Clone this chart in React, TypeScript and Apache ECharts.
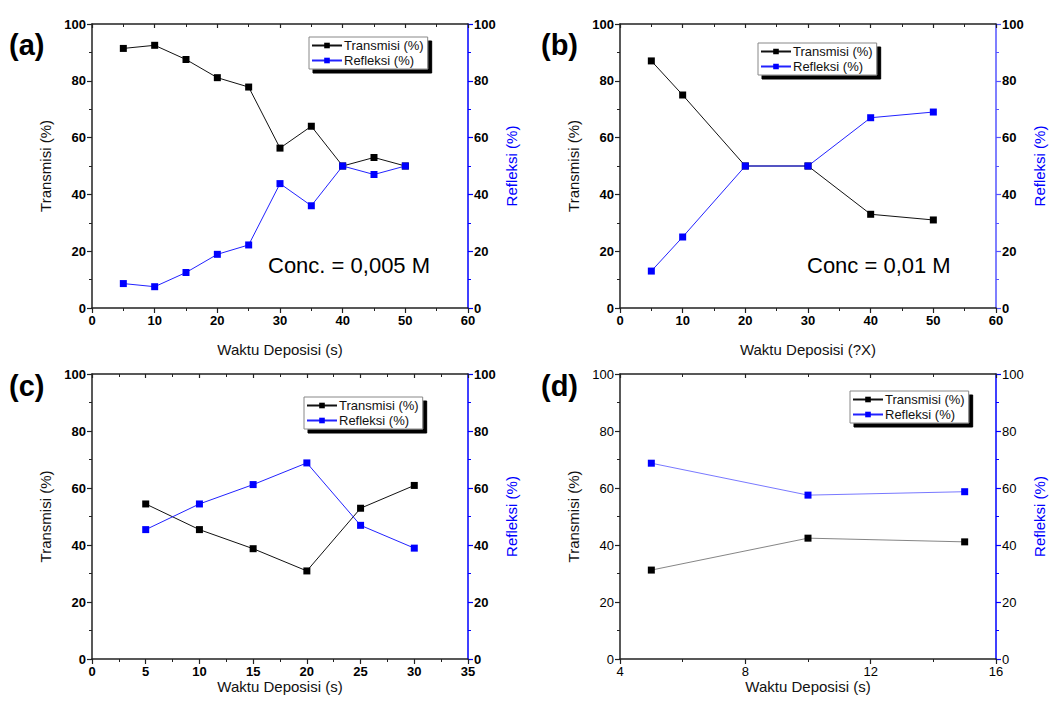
import React, { useEffect, useRef } from "react";
import * as echarts from "echarts";

// Panel (a) Conc. = 0,005 M
const timeA = [5, 10, 15, 20, 25, 30, 35, 40, 45, 50];
const transA = [91.4, 92.5, 87.5, 81.1, 77.8, 56.3, 64.0, 50.0, 53.0, 50.0];
const reflA = [8.6, 7.5, 12.5, 18.9, 22.2, 43.8, 36.0, 50.0, 47.0, 50.0];
// Panel (b) Conc = 0,01 M
const timeB = [5, 10, 20, 30, 40, 50];
const transB = [87.0, 75.0, 50.0, 50.0, 33.0, 31.0];
const reflB = [13.0, 25.0, 50.0, 50.0, 67.0, 69.0];
// Panel (c)
const timeC = [5, 10, 15, 20, 25, 30];
const transC = [54.4, 45.4, 38.7, 30.9, 52.9, 60.9];
const reflC = [45.4, 54.4, 61.2, 68.8, 46.9, 38.9];
// Panel (d)
const timeD = [5, 10, 15];
const transD = [31.2, 42.4, 41.1];
const reflD = [68.7, 57.5, 58.7];

const panelLetters = ["(a)", "(b)", "(c)", "(d)"];
const xTitles = ["Waktu Deposisi (s)", "Waktu Deposisi (?X)", "Waktu Deposisi (s)", "Waktu Deposisi (s)"];
const yLeftTitle = "Transmisi (%)";
const yRightTitle = "Refleksi (%)";
const transName = "Transmisi (%)";
const reflName = "Refleksi (%)";
const xRanges = [
  { min: 0, max: 60, interval: 10 },
  { min: 0, max: 60, interval: 10 },
  { min: 0, max: 35, interval: 5 },
  { min: 4, max: 16, interval: 4 },
];
const concLabels = ["Conc. = 0,005 M", "Conc = 0,01 M"];

const FONT = "Liberation Sans, Arial, sans-serif";

export default function App() {
  const ref = useRef<HTMLDivElement>(null);
  useEffect(() => {
    if (!ref.current) return;
    const chart = echarts.init(ref.current, null, { renderer: "svg" });

    const grids = [
      { left: 92, top: 24, width: 376, height: 284 },
      { left: 620, top: 24, width: 376, height: 284 },
      { left: 92, top: 374, width: 376, height: 285 },
      { left: 620, top: 374, width: 376, height: 285 },
    ];
    const panels = [
      { t: timeA, tr: transA, rf: reflA },
      { t: timeB, tr: transB, rf: reflB },
      { t: timeC, tr: transC, rf: reflC },
      { t: timeD, tr: transD, rf: reflD },
    ];
    const legendPos = [
      { left: 309, top: 37 },
      { left: 758, top: 43 },
      { left: 304, top: 397 },
      { left: 850, top: 391 },
    ];
    const xNameGaps = [34, 34, 19, 19];
    const rightColors = ["#0000ff", "#5555ff", "#0000ff", "#0000ff"];

    const xAxis: any[] = [];
    const yAxis: any[] = [];
    const series: any[] = [];
    const legend: any[] = [];

    panels.forEach((p, i) => {
      const bold = i < 3 ? "bold" : "normal";
      const r = xRanges[i];
      xAxis.push({
        type: "value",
        gridIndex: i,
        position: "bottom",
        min: r.min,
        max: r.max,
        interval: r.interval,
        name: xTitles[i],
        nameLocation: "middle",
        nameGap: xNameGaps[i],
        nameTextStyle: { fontFamily: FONT, fontSize: 15, color: "#111" },
        axisLine: { onZero: false, lineStyle: { color: "#222", width: 1.5 } },
        axisTick: { inside: false, length: 5, lineStyle: { color: "#222", width: 1.2 } },
        minorTick: { show: true, splitNumber: 2, length: 3, lineStyle: { color: "#222" } },
        axisLabel: { fontFamily: FONT, fontSize: 13, fontWeight: bold, color: "#000", margin: 6 },
        splitLine: { show: false },
      });
      xAxis.push({
        type: "value",
        gridIndex: i,
        position: "top",
        min: r.min,
        max: r.max,
        interval: r.interval,
        axisLine: { onZero: false, lineStyle: { color: "#222", width: 1.5 } },
        axisTick: { inside: true, length: 4, lineStyle: { color: "#222", width: 1.2 } },
        minorTick: { show: true, splitNumber: 2, length: 3, lineStyle: { color: "#222" } },
        axisLabel: { show: false },
        splitLine: { show: false },
      });
      yAxis.push({
        type: "value",
        gridIndex: i,
        position: "left",
        min: 0,
        max: 100,
        interval: 20,
        name: yLeftTitle,
        nameLocation: "middle",
        nameGap: 39,
        nameTextStyle: { fontFamily: FONT, fontSize: 15, color: "#111" },
        axisLine: { show: true, onZero: false, lineStyle: { color: "#222", width: 1.5 } },
        axisTick: { show: true, inside: false, length: 5, lineStyle: { color: "#222", width: 1.2 } },
        minorTick: { show: true, splitNumber: 2, length: 3, lineStyle: { color: "#222" } },
        axisLabel: { fontFamily: FONT, fontSize: 13, fontWeight: bold, color: "#000", margin: 6 },
        splitLine: { show: false },
      });
      yAxis.push({
        type: "value",
        gridIndex: i,
        position: "right",
        min: 0,
        max: 100,
        interval: 20,
        name: yRightTitle,
        nameLocation: "middle",
        nameGap: 36,
        nameRotate: 90,
        nameTextStyle: { fontFamily: FONT, fontSize: 15, color: "#0000ff" },
        axisLine: { show: true, onZero: false, lineStyle: { color: rightColors[i], width: 1.5 } },
        axisTick: { show: true, inside: false, length: 5, lineStyle: { color: rightColors[i], width: 1.2 } },
        minorTick: { show: true, splitNumber: 2, length: 3, lineStyle: { color: rightColors[i] } },
        axisLabel: { fontFamily: FONT, fontSize: 13, fontWeight: bold, color: "#000", margin: 6 },
        splitLine: { show: false },
      });
      const thin = i === 3;
      series.push({
        type: "line",
        name: transName,
        xAxisIndex: 2 * i,
        yAxisIndex: 2 * i,
        data: p.t.map((x, k) => [x, p.tr[k]]),
        symbol: "rect",
        symbolSize: 7,
        itemStyle: { color: "#000" },
        lineStyle: { color: thin ? "#666" : "#111", width: thin ? 0.8 : 1 },
        z: 3,
      });
      series.push({
        type: "line",
        name: reflName,
        xAxisIndex: 2 * i,
        yAxisIndex: 2 * i + 1,
        data: p.t.map((x, k) => [x, p.rf[k]]),
        symbol: "rect",
        symbolSize: 7,
        itemStyle: { color: "#0000ff" },
        lineStyle: { color: thin ? "#5555ff" : "#2222ff", width: thin ? 0.8 : 1 },
        z: 3,
      });
      legend.push({
        left: legendPos[i].left,
        top: legendPos[i].top,
        orient: "vertical",
        data: [transName, reflName],
        itemWidth: 30,
        itemHeight: 7,
        itemGap: 2,
        padding: [2, 4, 2, 2],
        backgroundColor: "#fff",
        borderColor: "#888",
        borderWidth: 1,
        shadowColor: "#000",
        shadowBlur: 0,
        shadowOffsetX: 4,
        shadowOffsetY: 4,
        selectedMode: false,
        textStyle: { fontFamily: FONT, fontSize: 13, color: "#111", padding: [0, 0, 0, -3] },
      });
    });

    const graphic: any[] = [];
    const letterPos = [
      { x: 9, y: 30 },
      { x: 541, y: 30 },
      { x: 9, y: 371 },
      { x: 541, y: 371 },
    ];
    panelLetters.forEach((s, i) => {
      graphic.push({
        type: "text",
        left: letterPos[i].x,
        top: letterPos[i].y,
        style: { text: s, font: `bold 29px ${FONT}`, fill: "#000" },
      });
    });
    graphic.push({
      type: "text",
      left: 268,
      top: 254,
      style: { text: concLabels[0], font: `22px ${FONT}`, fill: "#000" },
    });
    graphic.push({
      type: "text",
      left: 807,
      top: 254,
      style: { text: concLabels[1], font: `22px ${FONT}`, fill: "#000" },
    });

    chart.setOption({
      animation: false,
      backgroundColor: "#fff",
      grid: grids.map((g) => ({ ...g, containLabel: false })),
      xAxis,
      yAxis,
      series,
      legend,
      graphic,
    });
    return () => chart.dispose();
  }, []);
  return (
    <div
      ref={ref}
      style={{ position: "fixed", left: 0, top: 0, width: 1058, height: 707 }}
    />
  );
}
